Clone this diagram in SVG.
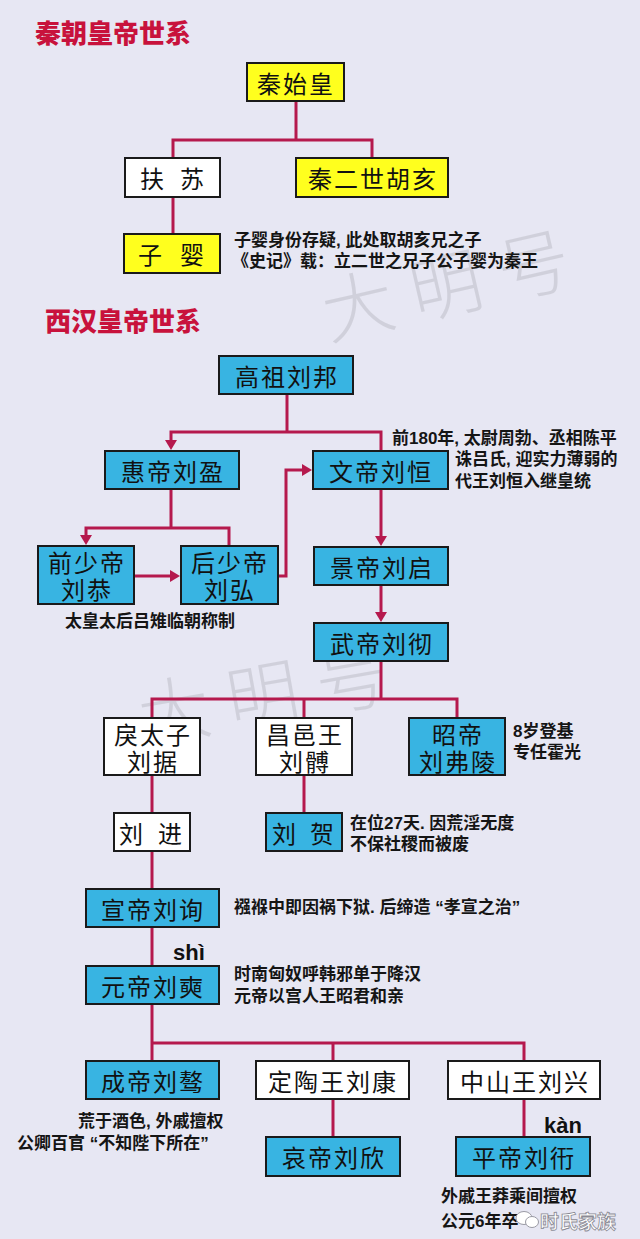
<svg xmlns="http://www.w3.org/2000/svg" width="640" height="1239" viewBox="0 0 640 1239">
<defs>
<style>
.bg{fill:#e7e7f3}
.box{stroke:#1a1a1a;stroke-width:2}
.w{fill:#ffffff}
.y{fill:#ffff1e}
.b{fill:#38b4e2}
.t{font-family:"Liberation Sans","Noto Sans CJK SC","Noto Sans CJK TC",sans-serif;font-size:24px;fill:#111;text-anchor:middle;dominant-baseline:central;letter-spacing:2px}
.n{font-family:"Liberation Sans","Noto Sans CJK SC","Noto Sans CJK TC",sans-serif;font-size:17px;font-weight:700;fill:#151515;dominant-baseline:central}
.title{font-family:"Noto Sans CJK SC","Noto Sans CJK TC",sans-serif;font-size:26px;font-weight:900;fill:#c8123c;dominant-baseline:central}
.py{font-family:"Liberation Sans",Arial,sans-serif;font-size:22px;font-weight:bold;fill:#111}
.wm{font-family:"Noto Sans CJK SC",sans-serif;font-size:72px;font-weight:300;fill:#bfbfc9;opacity:0.55;letter-spacing:18px}
.c{fill:none;stroke:#b5194d;stroke-width:3}
</style>
<marker id="ah" markerUnits="userSpaceOnUse" markerWidth="12" markerHeight="12" viewBox="0 0 10 12" refX="0" refY="6" orient="auto">
<path d="M0,0 L10,6 L0,12 Z" fill="#b5194d"/>
</marker>
</defs>
<rect class="bg" x="0" y="0" width="640" height="1239"/>

<!-- watermarks -->
<text class="wm" x="455" y="310" text-anchor="middle" transform="rotate(-13 455 285)">大明号</text>
<text class="wm" x="272" y="720" text-anchor="middle" transform="rotate(-10 272 695)">大明号</text>

<!-- titles -->
<text class="title" x="35" y="31">秦朝皇帝世系</text>
<text class="title" x="45" y="319">西汉皇帝世系</text>

<!-- connectors -->
<g id="connectors">
<path class="c" d="M296,101 V140"/>
<path class="c" d="M173,158 V140 H372 V158"/>
<path class="c" d="M173,197 V234"/>

<path class="c" d="M287,394 V432"/>
<path class="c" d="M287,432 H171 V440" marker-end="url(#ah)"/>
<path class="c" d="M287,432 H381 V451"/>
<path class="c" d="M171,489 V528"/>
<path class="c" d="M171,528 H86 V535" marker-end="url(#ah)"/>
<path class="c" d="M171,528 H229 V546"/>
<path class="c" d="M134,576 H170" marker-end="url(#ah)"/>
<path class="c" d="M278,576 H286 V470 H302" marker-end="url(#ah)"/>
<path class="c" d="M381,489 V536" marker-end="url(#ah)"/>
<path class="c" d="M381,585 V612" marker-end="url(#ah)"/>

<path class="c" d="M381,661 V699"/>
<path class="c" d="M152,718 V699 H457 V718"/>
<path class="c" d="M304,699 V718"/>
<path class="c" d="M152,775 V813"/>
<path class="c" d="M304,775 V813"/>
<path class="c" d="M152,851 V889"/>
<path class="c" d="M152,927 V966"/>
<path class="c" d="M152,1004 V1061"/>
<path class="c" d="M152,1043 H524 V1061"/>
<path class="c" d="M333,1043 V1061"/>
<path class="c" d="M333,1099 V1137"/>
<path class="c" d="M524,1099 V1137"/>
</g>

<!-- Qin -->
<g id="qinshihuang"><rect class="box y" x="247" y="63" width="97" height="38"/><text class="t" x="296" y="84">秦始皇</text></g>
<g id="fusu"><rect class="box w" x="125" y="158" width="95" height="39"/><text class="t" y="179"><tspan x="153">扶</tspan><tspan x="193">苏</tspan></text></g>
<g id="huhai"><rect class="box y" x="296" y="158" width="152" height="39"/><text class="t" x="373" y="179">秦二世胡亥</text></g>
<g id="ziying"><rect class="box y" x="124" y="234" width="96" height="39"/><text class="t" y="255"><tspan x="151">子</tspan><tspan x="193">婴</tspan></text></g>
<g id="note-ziying">
<text class="n" y="240"><tspan x="234">子婴身份存疑, 此处取胡亥兄之子</tspan><tspan x="232" dy="21">《史记》载：立二世之兄子公子婴为秦王</tspan></text>
</g>

<!-- Han -->
<g id="gaozu"><rect class="box b" x="219" y="356" width="134" height="38"/><text class="t" x="287" y="377">高祖刘邦</text></g>
<g id="huidi"><rect class="box b" x="105" y="451" width="134" height="38"/><text class="t" x="173" y="472">惠帝刘盈</text></g>
<g id="wendi"><rect class="box b" x="313" y="451" width="135" height="38"/><text class="t" x="381" y="472">文帝刘恒</text></g>
<g id="note-wendi">
<text class="n" y="438"><tspan x="392">前180年, 太尉周勃、丞相陈平</tspan><tspan x="455" dy="21">诛吕氏, 迎实力薄弱的</tspan><tspan x="455" dy="22">代王刘恒入继皇统</tspan></text>
</g>
<g id="qianshaodi"><rect class="box b" x="38" y="546" width="96" height="58"/><text class="t" y="563"><tspan x="87">前少帝</tspan><tspan x="87" dy="27">刘恭</tspan></text></g>
<g id="houshaodi"><rect class="box b" x="181" y="546" width="97" height="58"/><text class="t" y="563"><tspan x="230">后少帝</tspan><tspan x="230" dy="27">刘弘</tspan></text></g>
<g id="note-lvzhi"><text class="n" x="65" y="621">太皇太后吕雉临朝称制</text></g>
<g id="jingdi"><rect class="box b" x="314" y="547" width="134" height="38"/><text class="t" x="382" y="568">景帝刘启</text></g>
<g id="wudi"><rect class="box b" x="314" y="623" width="134" height="38"/><text class="t" x="382" y="644">武帝刘彻</text></g>

<g id="lijuzi"><rect class="box w" x="104" y="718" width="96" height="57"/><text class="t" y="735"><tspan x="153">戾太子</tspan><tspan x="153" dy="27">刘据</tspan></text></g>
<g id="changyi"><rect class="box w" x="256" y="718" width="96" height="57"/><text class="t" y="735"><tspan x="305">昌邑王</tspan><tspan x="305" dy="27">刘髆</tspan></text></g>
<g id="zhaodi"><rect class="box b" x="409" y="718" width="96" height="57"/><text class="t" y="735"><tspan x="458">昭帝</tspan><tspan x="458" dy="27">刘弗陵</tspan></text></g>
<g id="note-zhaodi">
<text class="n" y="731"><tspan x="513">8岁登基</tspan><tspan x="513" dy="21">专任霍光</tspan></text>
</g>
<g id="liujin"><rect class="box w" x="114" y="813" width="76" height="38"/><text class="t" y="834"><tspan x="132">刘</tspan><tspan x="171">进</tspan></text></g>
<g id="liuhe"><rect class="box b" x="266" y="813" width="76" height="38"/><text class="t" y="834"><tspan x="285">刘</tspan><tspan x="323">贺</tspan></text></g>
<g id="note-liuhe">
<text class="n" y="823"><tspan x="350">在位27天. 因荒淫无度</tspan><tspan x="350" dy="21">不保社稷而被废</tspan></text>
</g>
<g id="xuandi"><rect class="box b" x="86" y="889" width="133" height="38"/><text class="t" x="153" y="910">宣帝刘询</text></g>
<g id="note-xuandi"><text class="n" x="234" y="907">襁褓中即因祸下狱. 后缔造 “孝宣之治”</text></g>

<text class="py" x="173" y="960">shì</text>
<g id="yuandi"><rect class="box b" x="86" y="966" width="133" height="38"/><text class="t" x="153" y="987">元帝刘奭</text></g>
<g id="note-yuandi">
<text class="n" y="974"><tspan x="234">时南匈奴呼韩邪单于降汉</tspan><tspan x="234" dy="22">元帝以宫人王昭君和亲</tspan></text>
</g>
<g id="chengdi"><rect class="box b" x="86" y="1061" width="133" height="38"/><text class="t" x="153" y="1082">成帝刘骜</text></g>
<g id="dingtao"><rect class="box w" x="256" y="1061" width="153" height="38"/><text class="t" x="333" y="1082">定陶王刘康</text></g>
<g id="zhongshan"><rect class="box w" x="448" y="1061" width="152" height="38"/><text class="t" x="525" y="1082">中山王刘兴</text></g>
<g id="note-chengdi">
<text class="n" y="1121"><tspan x="78">荒于酒色, 外戚擅权</tspan><tspan x="17" dy="22">公卿百官 “不知陛下所在”</tspan></text>
</g>
<g id="aidi"><rect class="box b" x="266" y="1137" width="134" height="39"/><text class="t" x="334" y="1158">哀帝刘欣</text></g>
<text class="py" x="544" y="1133">kàn</text>
<g id="pingdi"><rect class="box b" x="456" y="1137" width="134" height="39"/><text class="t" x="524" y="1158">平帝刘衎</text></g>
<g id="note-pingdi">
<text class="n" y="1196"><tspan x="441">外戚王莽乘间擅权</tspan><tspan x="441" dy="25">公元6年卒</tspan></text>
</g>
<g id="wechat-mark">
<ellipse cx="524" cy="1218" rx="8" ry="6.5" fill="#ffffff" stroke="#9a9aa4" stroke-width="1"/>
<ellipse cx="532" cy="1222" rx="6.5" ry="5.5" fill="#ffffff" stroke="#9a9aa4" stroke-width="1"/>
<text x="540" y="1220" font-family="Noto Sans CJK SC,sans-serif" font-size="19" font-weight="700" fill="#ffffff" stroke="#8a8a94" stroke-width="0.8" dominant-baseline="central">时氏家族</text>
</g>
</svg>
